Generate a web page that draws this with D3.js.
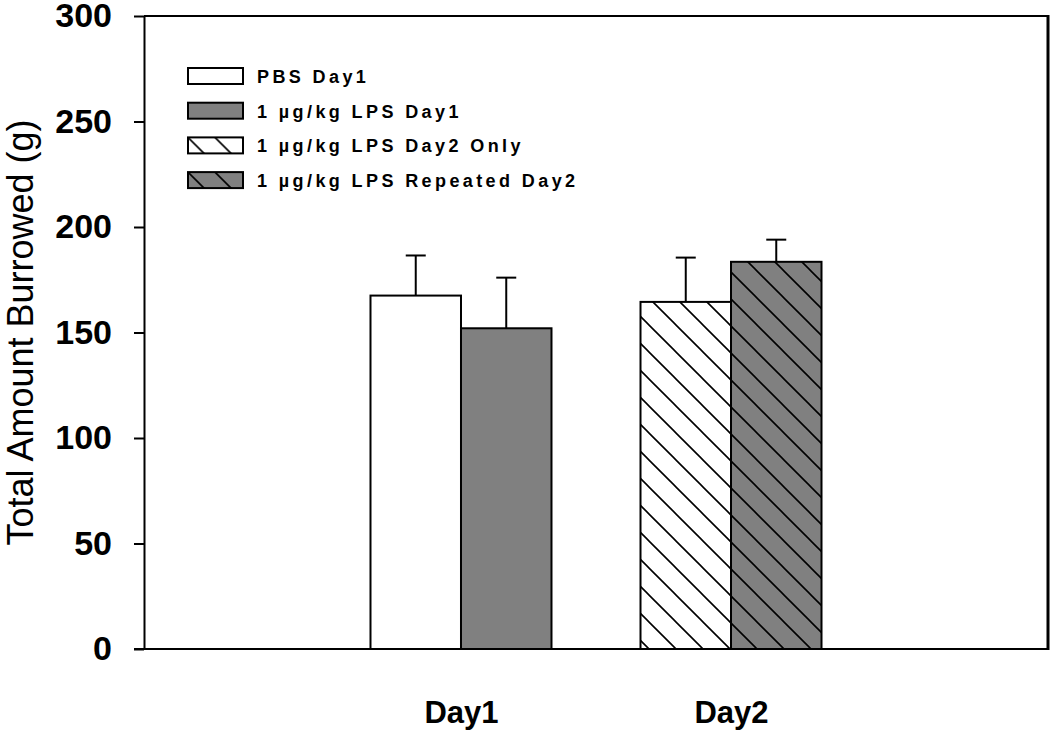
<!DOCTYPE html>
<html>
<head>
<meta charset="utf-8">
<script src="https://cdn.jsdelivr.net/npm/d3@7"></script>
<style>
  body { margin: 0; background: #fff; }
  text { font-family: "Liberation Sans", Arial, sans-serif; }
</style>
</head>
<body>
<svg id="chart"></svg>
<script>
// burrowing bar chart

var categories = ['Day1', 'Day2'];
var seriesNames = ['PBS Day1', '1 \u00b5g/kg LPS Day1', '1 \u00b5g/kg LPS Day2 Only', '1 \u00b5g/kg LPS Repeated Day2'];
var seriesCategory = ['Day1', 'Day1', 'Day2', 'Day2'];
var means = [167.5, 152, 164.5, 183.5];
var errors = [19, 24, 21, 10.5];
var yTicks = [0, 50, 100, 150, 200, 250, 300];

var fills = ['#ffffff', '#808080', 'url(#hatchWhite)', 'url(#hatchGray)'];

var width = 1050, height = 733;
var plotLeft = 144, plotRight = 1048, plotTop = 16, plotBottom = 649;

var svg = d3.select('#chart')
    .attr('width', width)
    .attr('height', height);

// hatch patterns
var defs = svg.append('defs');
[['hatchWhite', '#ffffff'], ['hatchGray', '#808080']].forEach(function(p) {
    var pat = defs.append('pattern')
        .attr('id', p[0])
        .attr('patternUnits', 'userSpaceOnUse')
        .attr('width', 27)
        .attr('height', 27);
    pat.append('rect').attr('width', 27).attr('height', 27).attr('fill', p[1]);
    pat.append('path')
        .attr('d', 'M-3,-3 L30,30 M-3,24 L3,30 M24,-3 L30,3')
        .attr('stroke', '#000')
        .attr('stroke-width', 1.6);
});

var yScale = d3.scaleLinear()
    .domain([0, 300])
    .range([plotBottom, plotTop]);

var xScale = d3.scalePoint()
    .domain(categories)
    .range([plotLeft, plotRight])
    .padding(1.174);

var barW = 90.5;

// series position inside its group
function barX(i) {
    var slot = seriesCategory.slice(0, i).filter(function(c) { return c == seriesCategory[i]; }).length;
    return xScale(seriesCategory[i]) - barW + slot * barW;
}

// frame
svg.append('line')
    .attr('x1', plotLeft).attr('x2', plotRight)
    .attr('y1', plotTop).attr('y2', plotTop)
    .attr('stroke', '#000').attr('stroke-width', 2);
svg.append('line')
    .attr('x1', plotRight).attr('x2', plotRight)
    .attr('y1', plotTop - 1).attr('y2', plotBottom + 1)
    .attr('stroke', '#000').attr('stroke-width', 3);

var idx = d3.range(seriesNames.length);

// error bars
var err = svg.append('g');
err.selectAll('line.stem')
    .data(idx)
    .enter()
    .append('line')
    .attr('x1', function(i) { return barX(i) + barW / 2; })
    .attr('x2', function(i) { return barX(i) + barW / 2; })
    .attr('y1', function(i) { return yScale(means[i]); })
    .attr('y2', function(i) { return yScale(means[i] + errors[i]); })
    .attr('stroke', '#000').attr('stroke-width', 2);
err.selectAll('line.cap')
    .data(idx)
    .enter()
    .append('line')
    .attr('x1', function(i) { return barX(i) + barW / 2 - 10; })
    .attr('x2', function(i) { return barX(i) + barW / 2 + 10; })
    .attr('y1', function(i) { return yScale(means[i] + errors[i]); })
    .attr('y2', function(i) { return yScale(means[i] + errors[i]); })
    .attr('stroke', '#000').attr('stroke-width', 2);

// bars
svg.append('g')
    .selectAll('rect')
    .data(idx)
    .enter()
    .append('rect')
    .attr('x', function(i) { return barX(i); })
    .attr('y', function(i) { return yScale(means[i]); })
    .attr('width', barW)
    .attr('height', function(i) { return yScale(0) - yScale(means[i]); })
    .attr('fill', function(i) { return fills[i]; })
    .attr('stroke', '#000')
    .attr('stroke-width', 2);

// y axis
var yAxis = d3.axisLeft(yScale)
    .tickValues(yTicks)
    .tickSize(10)
    .tickPadding(22)
    .tickSizeOuter(0);

var yG = svg.append('g')
    .attr('transform', 'translate(' + plotLeft + ',0)')
    .call(yAxis);
yG.select('.domain').attr('stroke-width', 2);
yG.selectAll('.tick line').attr('stroke-width', 2);
yG.selectAll('.tick text')
    .attr('font-size', 34)
    .attr('font-weight', 'bold')
    .attr('font-family', '"Liberation Sans", Arial, sans-serif')
    .attr('fill', '#000');

// x axis
var xAxis = d3.axisBottom(xScale)
    .tickSize(0)
    .tickPadding(52)
    .tickSizeOuter(0);

var xG = svg.append('g')
    .attr('transform', 'translate(0,' + plotBottom + ')')
    .call(xAxis);
xG.select('.domain')
    .attr('d', 'M' + (plotLeft - 10) + ',0H' + plotRight)
    .attr('stroke-width', 2);
xG.selectAll('.tick text')
    .attr('font-size', 31)
    .attr('font-weight', 'bold')
    .attr('font-family', '"Liberation Sans", Arial, sans-serif')
    .attr('fill', '#000');

// y title
svg.append('text')
    .attr('transform', 'translate(33,' + (plotTop + plotBottom) / 2 + ') rotate(-90)')
    .attr('text-anchor', 'middle')
    .attr('font-size', 36)
    .attr('fill', '#000')
    .text('Total Amount Burrowed (g)');

// legend
var legend = svg.append('g')
    .attr('transform', 'translate(188,68)');
var rows = legend.selectAll('g')
    .data(idx)
    .enter()
    .append('g')
    .attr('transform', function(i) { return 'translate(0,' + (i * 34.7) + ')'; });
rows.append('rect')
    .attr('width', 55)
    .attr('height', 16)
    .attr('fill', function(i) { return fills[i]; })
    .attr('stroke', '#000')
    .attr('stroke-width', 2);
rows.append('text')
    .attr('x', 69)
    .attr('y', 15)
    .attr('font-size', 18)
    .attr('font-weight', 'bold')
    .attr('letter-spacing', 3.4)
    .attr('fill', '#000')
    .text(function(i) { return seriesNames[i]; });
</script>
</body>
</html>
